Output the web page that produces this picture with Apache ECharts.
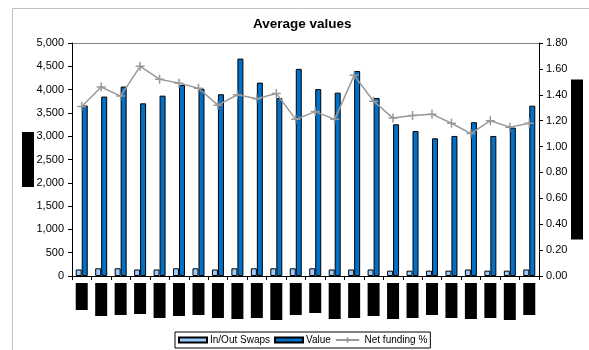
<!DOCTYPE html>
<html>
<head>
<meta charset="utf-8">
<script src="https://cdn.jsdelivr.net/npm/echarts@6/dist/echarts.min.js"></script>
<style>html,body{margin:0;padding:0;background:#fff}#c{width:589px;height:350px}</style>
</head>
<body>
<div id="c"></div>
<script>
// ---- data ----
const categories = ['1','2','3','4','5','6','7','8','9','10','11','12','13','14','15','16','17','18','19','20','21','22','23','24'];
const swaps = [140,165,165,140,140,165,165,140,165,165,165,165,165,140,140,140,115,115,115,115,140,115,115,140];
const values = [3660,3850,4065,3705,3870,4100,4020,3900,4665,4150,3820,4445,4010,3935,4400,3820,3255,3110,2955,3005,3300,3005,3185,3655];
const netFunding = [1.31,1.46,1.39,1.62,1.52,1.49,1.45,1.32,1.40,1.37,1.41,1.21,1.27,1.21,1.55,1.35,1.22,1.24,1.25,1.18,1.10,1.20,1.15,1.18];
const leftTicks = {min:0, max:5000, interval:500};
const rightTicks = {min:0, max:1.8, interval:0.2};
const leftAxisName = 'A';
const rightAxisName = 'B';

// label box heights (redacted category labels drawn as black boxes)
const labelBoxH = [27,33,32,31,35,33,32,35,36,35,37,32,30,36,35,33,36,35,32,35,36,35,37,32];
const rich = {};
labelBoxH.forEach((h,i)=>{ rich['l'+i] = {backgroundColor:'#000', color:'#000', width:12, height:h, fontSize:7, align:'center', verticalAlign:'top'}; });

const FONT = 'Liberation Sans, Arial, sans-serif';
const chart = echarts.init(document.getElementById('c'), null, {renderer:'canvas'});
chart.setOption({
  animation:false,
  backgroundColor:'#fff',
  title:{text:'Average values', left:253, top:17, padding:0,
    textStyle:{fontFamily:FONT, fontSize:13.5, fontWeight:'bold', color:'#000'}},
  grid:{left:72, right:50, top:43, bottom:74, containLabel:false, show:false},
  legend:{
    bottom:2, left:175, width:258, height:17, padding:[3,3,3,3], itemGap:4,
    borderColor:'#000', borderWidth:1, itemWidth:28, itemHeight:5,
    textStyle:{fontFamily:FONT, fontSize:10, color:'#000', padding:[0,0,0,-2]},
    data:[
      {name:'In/Out Swaps', icon:'rect'},
      {name:'Value', icon:'rect'},
      {name:'Net funding %', icon:'path://M0,5 L28,5 M14,2 L14,8'}
    ]
  },
  xAxis:{
    type:'category', data:categories,
    axisLine:{lineStyle:{color:'#000', width:1}},
    axisTick:{show:true, length:4, interval:0, lineStyle:{color:'#000'}},
    axisLabel:{interval:0, margin:7, rich:rich,
      formatter:(v,i)=>'{l'+i+'|'+v+'}'}
  },
  yAxis:[
    {type:'value', min:leftTicks.min, max:leftTicks.max, interval:leftTicks.interval,
     name:'{n|'+leftAxisName+'}', nameLocation:'middle', nameRotate:0, nameGap:38, nameMoveOverlap:false,
     nameTextStyle:{rich:{n:{backgroundColor:'#000', color:'#000', width:12, height:55, fontSize:7, align:'center'}}},
     axisLine:{show:true, lineStyle:{color:'#000'}},
     axisTick:{show:true, length:4, lineStyle:{color:'#000'}},
     splitLine:{show:false},
     axisLabel:{margin:8, fontFamily:FONT, fontSize:11, color:'#000',
       formatter:v=>v.toLocaleString('en-US')}},
    {type:'value', min:rightTicks.min, max:rightTicks.max, interval:rightTicks.interval,
     name:'{n|'+rightAxisName+'}', nameLocation:'middle', nameRotate:0, nameGap:32, nameMoveOverlap:false,
     nameTextStyle:{rich:{n:{backgroundColor:'#000', color:'#000', width:12, height:160, fontSize:7, align:'center'}}},
     axisLine:{show:true, lineStyle:{color:'#000'}},
     axisTick:{show:true, length:4, lineStyle:{color:'#000'}},
     splitLine:{show:false},
     axisLabel:{margin:7, fontFamily:FONT, fontSize:11, color:'#000',
       formatter:v=>v.toFixed(2)}}
  ],
  graphic:[
    {type:'rect', shape:{x:12.5, y:8.5, width:700, height:500}, style:{fill:'none', stroke:'#c0c0c0', lineWidth:1}, silent:true, z:-10},
    {type:'line', shape:{x1:72, y1:43.5, x2:539, y2:43.5}, style:{stroke:'#808080', lineWidth:1}, silent:true}
  ],
  series:[
    {name:'In/Out Swaps', type:'bar', data:swaps, barWidth:6, barGap:'0%',
     itemStyle:{color:'#99ccff', borderColor:'#000', borderWidth:1}},
    {name:'Value', type:'bar', data:values, barWidth:6,
     itemStyle:{color:'#0070c8', borderColor:'#000', borderWidth:1}},
    {name:'Net funding %', type:'line', yAxisIndex:1, data:netFunding,
     symbol:'path://M0,5 L10,5 M5,0 L5,10', symbolSize:9,
     lineStyle:{color:'#999999', width:1.5},
     itemStyle:{color:'#999999', borderColor:'#999999', borderWidth:1.5}}
  ]
});
</script>
</body>
</html>
